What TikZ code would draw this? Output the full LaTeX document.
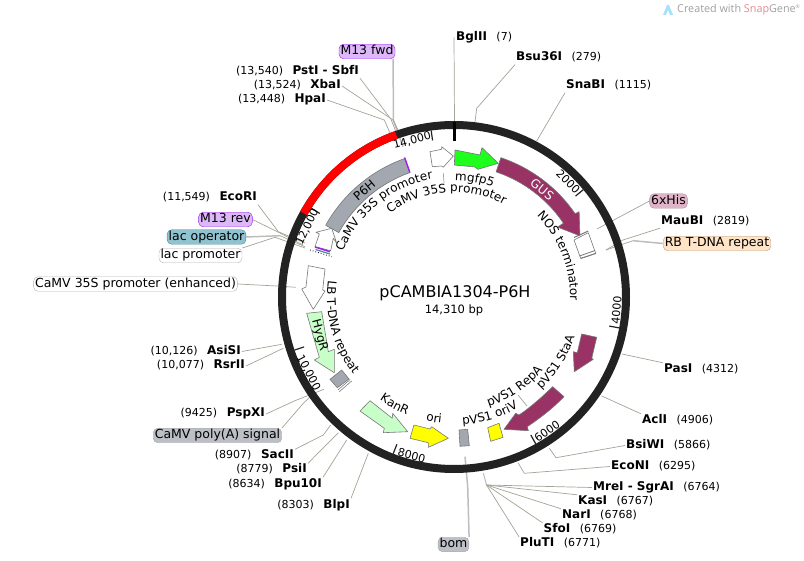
\documentclass[tikz,border=0pt]{standalone}
\usepackage{fontspec}
\setmainfont{DejaVu Sans}
\newfontfamily\markfont{Open Sans}
\usepackage{tikz}
\usetikzlibrary{decorations.text}

\definecolor{ringdark}{HTML}{222222}
\definecolor{linegray}{HTML}{A3A296}
\definecolor{thickgray}{HTML}{BDBDBD}
\definecolor{edgegray}{HTML}{777777}
\definecolor{blockgray}{HTML}{A2A7B0}
\definecolor{gusred}{HTML}{993366}
\definecolor{gfpgreen}{HTML}{1EFF1E}
\definecolor{palegreen}{HTML}{C8FFC8}
\definecolor{oriyellow}{HTML}{FFFF00}
\definecolor{m13fill}{HTML}{DDB8F8}
\definecolor{m13edge}{HTML}{A020F0}
\definecolor{lacfill}{HTML}{8FC3D0}
\definecolor{lacedge}{HTML}{4E8A99}
\definecolor{hisfill}{HTML}{E0B4C8}
\definecolor{hisedge}{HTML}{B08CA0}
\definecolor{rbfill}{HTML}{FFE4C8}
\definecolor{rbedge}{HTML}{B89C80}
\definecolor{polyfill}{HTML}{BCBFC6}
\definecolor{snapred}{HTML}{E28A8A}

\newcommand{\tagfont}{\fontsize{12}{14}\selectfont}
\newcommand{\gap}{\hspace{9.5pt}}
\newcommand{\enz}[1]{{\fontsize{12}{13}\selectfont\bfseries #1}}

\tikzset{
  sitelabel/.style={font=\fontsize{11}{13}\selectfont, inner sep=1pt, text height=8.5pt, text depth=2.5pt},
  pill/.style={font=\fontsize{12.5}{14}\selectfont, draw, rounded corners=4.5pt, inner sep=1.5pt, text height=9pt, text depth=2.5pt},
  siteline/.style={draw=linegray, line width=0.7pt},
  thickline/.style={draw=thickgray, line width=1.5pt},
  feat/.style={draw=edgegray, line width=0.6pt, line join=round},
  ticklabel/.style={font=\fontsize{11}{13}\selectfont, inner sep=0pt},
  curved/.style={decorate, decoration={text along path, text align={center}, text={|\tagfont|#1}}}
}

\begin{document}
\begin{tikzpicture}[x=1pt,y=-1pt]
  \useasboundingbox (0,0) rectangle (804,561);

  % Title mark
  \fill[cyan!35] (663,15) -- (667,5) -- (669,5) -- (673,15) -- (670,15) -- (668,10) -- (666,15) -- cycle;
  \node[inner sep=0pt, anchor=west, text=gray!75, font=\markfont\fontsize{10.8}{12}\selectfont] (mark) at (677,9.5) {Created with \textcolor{snapred}{Snap}Gene\textsuperscript{\tiny®}};

  % Enzyme labels, right side
  \node[sitelabel, anchor=west] (BglII) at (455,38) {\enz{BglII}\gap(7)};
  \node[sitelabel, anchor=west] (Bsu36I) at (515,58) {\enz{Bsu36I}\gap(279)};
  \node[sitelabel, anchor=west] (SnaBI) at (565,86) {\enz{SnaBI}\gap(1115)};
  \node[sitelabel, anchor=west] (MauBI) at (660,221.5) {\enz{MauBI}\gap(2819)};
  \node[sitelabel, anchor=west] (PasI) at (663,369.5) {\enz{PasI}\gap(4312)};
  \node[sitelabel, anchor=west] (AclI) at (641,420.5) {\enz{AclI}\gap(4906)};
  \node[sitelabel, anchor=west] (BsiWI) at (625,445.5) {\enz{BsiWI}\gap(5866)};
  \node[sitelabel, anchor=west] (EcoNI) at (610,466.5) {\enz{EcoNI}\gap(6295)};
  \node[sitelabel, anchor=west] (MreI) at (592,487.5) {\enz{MreI - SgrAI}\gap(6764)};
  \node[sitelabel, anchor=west] (KasI) at (577,501.5) {\enz{KasI}\gap(6767)};
  \node[sitelabel, anchor=west] (NarI) at (561,515.5) {\enz{NarI}\gap(6768)};
  \node[sitelabel, anchor=west] (SfoI) at (542.5,529.5) {\enz{SfoI}\gap(6769)};
  \node[sitelabel, anchor=west] (PluTI) at (519,543.5) {\enz{PluTI}\gap(6771)};

  % Enzyme labels, left side
  \node[sitelabel, anchor=east] (PstI) at (360,71.5) {(13,540)\gap\enz{PstI - SbfI}};
  \node[sitelabel, anchor=east] (XbaI) at (342,86) {(13,524)\gap\enz{XbaI}};
  \node[sitelabel, anchor=east] (HpaI) at (327,100) {(13,448)\gap\enz{HpaI}};
  \node[sitelabel, anchor=east] (EcoRI) at (258,198) {(11,549)\gap\enz{EcoRI}};
  \node[sitelabel, anchor=east] (AsiSI) at (242,351.5) {(10,126)\gap\enz{AsiSI}};
  \node[sitelabel, anchor=east] (RsrII) at (246,366) {(10,077)\gap\enz{RsrII}};
  \node[sitelabel, anchor=east] (PspXI) at (266,414) {(9425)\gap\enz{PspXI}};
  \node[sitelabel, anchor=east] (SacII) at (295,456) {(8907)\gap\enz{SacII}};
  \node[sitelabel, anchor=east] (PsiI) at (308,470) {(8779)\gap\enz{PsiI}};
  \node[sitelabel, anchor=east] (Bpu10I) at (323,484) {(8634)\gap\enz{Bpu10I}};
  \node[sitelabel, anchor=east] (BlpI) at (351,505) {(8303)\gap\enz{BlpI}};

  % Feature pills
  \node[pill, fill=m13fill, draw=m13edge] (M13fwd) at (367,51.5) {M13 fwd};
  \node[pill, fill=m13fill, draw=m13edge] (M13rev) at (225.5,219.5) {M13 rev};
  \node[pill, fill=lacfill, draw=lacedge] (lacop) at (206.5,237) {lac operator};
  \node[pill, fill=white, draw=gray!60] (lacpro) at (200.5,255.5) {lac promoter};
  \node[pill, fill=white, draw=gray!60] (camvenh) at (135.5,284) {CaMV 35S promoter (enhanced)};
  \node[pill, fill=polyfill, draw=gray!70] (polyA) at (217.5,435.5) {CaMV poly(A) signal};
  \node[pill, fill=polyfill, draw=gray!70] (bom) at (453.5,544.5) {bom};
  \node[pill, fill=hisfill, draw=hisedge] (his) at (668.5,201) {6xHis};
  \node[pill, fill=rbfill, draw=rbedge] (rbrepeat) at (717,243.5) {RB T-DNA repeat};

  % Free ends of the leaders
  \coordinate (BglIIend) at (454.5,122);
  \coordinate (Bsu36Iend) at (475,122);
  \coordinate (SnaBIend) at (536.7,141);
  \coordinate (hisend) at (597,229);
  \coordinate (MauBIend) at (606,250);
  \coordinate (rbend) at (606,250);
  \coordinate (PasIend) at (622,354);
  \coordinate (AclIend) at (601.7,396);
  \coordinate (BsiWIend) at (549.3,448.3);
  \coordinate (EcoNIend) at (518,462.7);
  \coordinate (fanend) at (483.3,473);
  \coordinate (fan) at (486.5,485);
  \coordinate (bomend) at (465,456.7);
  \coordinate (m13fwdend) at (403,146.7);
  \coordinate (PstIend) at (396,132);
  \coordinate (XbaIend) at (399,132);
  \coordinate (HpaIend) at (390,133);
  \coordinate (EcoRIend) at (305,243);
  \coordinate (M13revend) at (303,245);
  \coordinate (lacopend) at (305,246.7);
  \coordinate (lacproend) at (305,248);
  \coordinate (camvenhend) at (295.7,287.3);
  \coordinate (AsiSIend) at (281.7,344.3);
  \coordinate (RsrIIend) at (283.3,348.3);
  \coordinate (PspXIend) at (324,389.3);
  \coordinate (polyAend) at (310,397);
  \coordinate (SacIIend) at (330.7,425);
  \coordinate (PsiIend) at (338.3,432.7);
  \coordinate (Bpu10Iend) at (346.7,440);
  \coordinate (BlpIend) at (368.3,453.3);
  \coordinate (camvonestart) at (443.3,173);
  \coordinate (camvoneend) at (444,183);
  \coordinate (repaonestart) at (518,395);
  \coordinate (repaoneend) at (527,406);

  % Leaders
  \draw[siteline] (BglII.north west) ++(-1,6) -- (BglIIend);
  \draw[siteline] (Bsu36I.south west) -- (476.7,108.3) -- (Bsu36Iend);
  \draw[siteline] (SnaBI.south west) -- (SnaBIend);
  \draw[siteline] (his.west) -- (hisend);
  \draw[siteline] (MauBI.south west) -- (623,240) -- (MauBIend);
  \draw[thickline] (rbrepeat.west) -- (633,240.7);
  \draw[siteline] (633,240.7) -- (rbend);
  \draw[siteline] (PasI.north west) -- (PasIend);
  \draw[siteline] (AclI.north west) -- (AclIend);
  \draw[siteline] (BsiWI.west) -- (556,457.7) -- (BsiWIend);
  \draw[siteline] (EcoNI.west) -- (524.3,473.3) -- (EcoNIend);
  \draw[thickline, line width=1pt] (fanend) -- (fan);
  \draw[siteline] (MreI.west) -- (fan);
  \draw[siteline] (KasI.north west) -- (fan);
  \draw[siteline] (NarI.north west) -- (fan);
  \draw[siteline] (SfoI.north west) -- (fan);
  \draw[siteline] (PluTI.north west) -- (fan);
  \draw[thickline] (bom.north east) -- (467.7,486.7) -- (bomend);
  \draw[thickline] (M13fwd.south east) ++(-2,0) -- (393.3,120) -- (m13fwdend);
  \draw[siteline] (PstI.south east) -- (391,119.3) -- (PstIend);
  \draw[siteline] (XbaI.east) -- (393,120) -- (XbaIend);
  \draw[siteline] (HpaI.east) -- (384.3,120) -- (HpaIend);
  \draw[siteline] (EcoRI.south east) -- (278.3,231.7) -- (EcoRIend);
  \draw[siteline] (M13rev.east) -- (280,233) -- (M13revend);
  \draw[thickline] (lacop.east) -- (280,235.7);
  \draw[siteline] (280,235.7) -- (lacopend);
  \draw[siteline] (lacpro.north east) -- (275,237.3) -- (lacproend);
  \draw[siteline] (camvenh.east) -- (276.7,286) -- (camvenhend);
  \draw[siteline] (AsiSI.east) -- (AsiSIend);
  \draw[siteline] (RsrII.east) -- (RsrIIend);
  \draw[siteline] (PspXI.east) -- (295,400.7) -- (PspXIend);
  \draw[siteline] (polyA.north east) -- (303.3,403.3) -- (polyAend);
  \draw[siteline] (SacII.north east) -- (323.3,435) -- (SacIIend);
  \draw[siteline] (PsiI.north east) -- (PsiIend);
  \draw[siteline] (Bpu10I.north east) -- (Bpu10Iend);
  \draw[siteline] (BlpI.north east) -- (BlpIend);
  \draw[siteline] (camvonestart) -- (camvoneend);
  \draw[siteline] (repaonestart) -- (repaoneend);

  \begin{scope}[shift={(454,297)}]
    % Backbone
    \draw[ringdark, line width=8pt] (0,0) circle[radius=172];
    \draw[red, line width=8pt] (-109.6:172) arc[start angle=-109.6, end angle=-150.9, radius=172];
    \draw[black, line width=3pt] (-90:156) -- (-90:175);

    % Ticks
    \draw[ringdark, line width=1.2pt] (-97.8:158) -- (-97.8:168);
    \draw[ringdark, line width=1.2pt] (-39.7:158) -- (-39.7:168);
    \draw[ringdark, line width=1.2pt] (10.6:158) -- (10.6:168);
    \draw[ringdark, line width=1.2pt] (60.9:158) -- (60.9:168);
    \draw[ringdark, line width=1.2pt] (111.2:158) -- (111.2:168);
    \draw[ringdark, line width=1.2pt] (161.6:158) -- (161.6:168);
    \draw[ringdark, line width=1.2pt] (211.9:158) -- (211.9:168);
    \node[ticklabel, rotate=15] (tickfourteen) at (-105:162) {14,000};
    \node[ticklabel, rotate=-45] (ticktwo) at (-45.2:162) {2000};
    \node[ticklabel, rotate=85.4] (tickfour) at (4.6:163) {4000};
    \node[ticklabel, rotate=35] (ticksix) at (55.2:163) {6000};
    \node[ticklabel, rotate=-15] (tickeight) at (105:164) {8000};
    \node[ticklabel, rotate=-62] (tickten) at (152.5:164) {10,000};
    \node[ticklabel, rotate=64.5] (ticktwelve) at (205.5:162.6) {12,000};

    % P6H and GUS
    \draw[feat, fill=blockgray] (-109.5:147) arc[start angle=-109.5, end angle=-150.8, radius=147] -- (-150.8:132) arc[start angle=-150.8, end angle=-109.5, radius=132] -- cycle;
    \draw[m13edge, line width=1.4pt] (-109.5:132) -- (-109.5:148);
    \node[font=\tagfont, rotate=40, inner sep=0pt] (P6H) at (-130:139.5) {P6H};
    \draw[feat, fill=gusred] (-71.4:147) arc[start angle=-71.4, end angle=-34.5, radius=147] -- (-34.3:151.5) -- (-25.9:140) -- (-34:125) -- (-34:132) arc[start angle=-34, end angle=-71.4, radius=132] -- cycle;
    \node[font=\tagfont, rotate=-39, text=white, inner sep=0pt] (GUS) at (-50.6:139) {GUS};

    % Curved labels
    \path[curved={CaMV 35S promoter}] (-165:120) arc[start angle=-165, end angle=-93, radius=120];
    \path[curved={CaMV 35S promoter}] (-134:105) arc[start angle=-134, end angle=-55, radius=105];
    \path[curved={mgfp5}] (-94:116.5) arc[start angle=-94, end angle=-66, radius=116.5];
    \path[curved={NOS terminator}] (-50:116) arc[start angle=-50, end angle=7.5, radius=116];
    \path[curved={LB T-DNA repeat}] (-165:127) arc[start angle=-165, end angle=-225, radius=127];
    \path[curved={pVS1 StaA}] (53:127) arc[start angle=53, end angle=12, radius=127];
    \path[curved={pVS1 RepA}] (79:115) arc[start angle=79, end angle=33, radius=115];
    \path[curved={pVS1 oriV}] (92:128) arc[start angle=92, end angle=54, radius=128];
    \path[curved={KanR}] (131:127) arc[start angle=131, end angle=106.7, radius=127];
    \path[curved={ori}] (108:127) arc[start angle=108, end angle=90.6, radius=127];
  \end{scope}

  % Features near the origin
  \draw[feat, fill=gfpgreen] (455,150) -- (480,155) -- (482,147.7) -- (498.3,163.3) -- (478,169.3) -- (475,167) -- (454.3,165) -- cycle;
  \draw[feat, fill=white] (430,151.7) -- (441.7,149.3) -- (441.7,146.7) -- (453.3,156) -- (443.3,167.3) -- (441.7,166) -- (432.3,166.7) -- cycle;

  % NOS terminator block
  \draw[feat, fill=white] (574,240) -- (588.3,232.7) -- (595.7,253.3) -- (580.7,258.3) -- cycle;
  \draw[edgegray, line width=1pt] (574,237.5) -- (588.3,231);
  \draw[edgegray, line width=0.8pt] (579.5,256) -- (595,250.5);
  \draw[edgegray, line width=0.8pt] (580.7,258.5) -- (596,253.5);

  % Lac region
  \draw[feat, fill=white] (331.7,228.3) -- (316,232.3) -- (319.3,234) -- (315,246.7) -- (330.7,250.7) -- (333.3,238.3) -- (336.7,243.3) -- cycle;
  \draw[m13edge, line width=1.5pt] (315,247) -- (330,251.7);
  \draw[lacedge, line width=1.2pt] (315.5,249.5) -- (330,254);
  \draw[black, line width=0.8pt, dotted] (310,250) -- (331.7,256.7);

  % Left arc features
  \draw[feat, fill=white] (308.3,265.7) -- (325,269) -- (322.7,290) -- (325,291) -- (313.3,309.3) -- (301.7,289) -- (306,287) -- cycle;
  \draw[feat, fill=palegreen] (306.7,313.3) -- (321.7,311.7) -- (328.3,351.7) -- (334.3,349.3) -- (334.3,372.7) -- (314.3,360) -- (319.3,357.3) -- cycle;
  \node[font=\tagfont, rotate=-75, inner sep=0pt] (HygR) at (319.3,335.5) {HygR};
  \draw[feat, fill=blockgray] (330,379.3) -- (341.7,370) -- (349,379) -- (337.3,387.7) -- cycle;
  \draw[edgegray, line width=0.6pt] (339.3,391.7) -- (351.7,381);
  \draw[edgegray, line width=0.6pt] (337.8,390) -- (350.2,379.5);

  % Bottom features
  \draw[feat, fill=palegreen] (370,400.7) -- (360,411) -- (384.3,428.3) -- (383.3,432.7) -- (407.7,431.7) -- (392.7,413.3) -- (392.3,418.3) -- cycle;
  \draw[feat, fill=oriyellow] (414,425) -- (410,438.3) -- (428.3,442.7) -- (428.3,447.3) -- (448.3,438.3) -- (431.7,426.7) -- (430,429) -- cycle;
  \draw[feat, fill=blockgray] (459,430) -- (467.7,429.3) -- (469.3,445.7) -- (460,446.3) -- cycle;
  \draw[feat, fill=oriyellow] (487.7,427.7) -- (499,423.3) -- (503,437.3) -- (490.7,441.3) -- cycle;
  \draw[feat, fill=gusred] (552.7,386.7) -- (564,396.7) .. controls (551,410) and (540,418) .. (527.3,426.7) -- (528.3,430.7) -- (504,429.3) -- (515.7,413.3) -- (519,415) .. controls (531,407) and (542,397) .. (552.7,386.7) -- cycle;
  \draw[feat, fill=gusred] (581.7,334) -- (596.7,337.3) -- (591.7,358.3) -- (593.3,359.3) -- (574.3,371.7) -- (573.3,351.7) -- (577.3,352.7) -- cycle;

  % Centre
  \node[font=\fontsize{16}{18}\selectfont, inner sep=0pt] (plasmid) at (455,293) {pCAMBIA1304-P6H};
  \node[font=\fontsize{11.5}{13}\selectfont, inner sep=0pt] (length) at (454,310) {14,310 bp};
\end{tikzpicture}
\end{document}
